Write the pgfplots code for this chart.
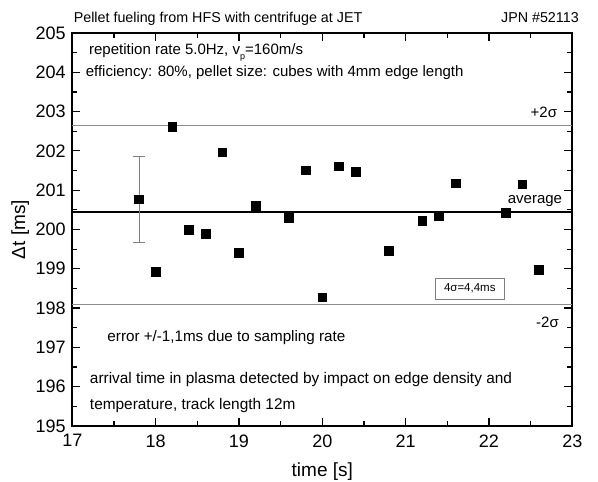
\documentclass[border=0pt]{standalone}
\usepackage{fontspec}
\setmainfont{Liberation Sans}
\usepackage{pgfplots}
\pgfplotsset{compat=1.18}
\begin{document}
\begin{tikzpicture}[x=1pt,y=1pt]
\path[use as bounding box] (-72.3,-56) rectangle (525.7,426);
\begin{axis}[
  at={(0,0)}, anchor=south west,
  scale only axis, width=500pt, height=393pt,
  xmin=17, xmax=23, ymin=195, ymax=205,
  xtick={17,18,...,23}, ytick={195,196,...,205},
  minor x tick num=1, minor y tick num=1,
  xtick pos=both, ytick pos=both,
  xticklabel pos=left, yticklabel pos=left,
  tick align=inside,
  major tick length=8pt, minor tick length=5pt,
  every tick/.style={black, line width=1.2pt},
  axis line style={line width=1.6pt},
  /pgf/number format/assume math mode=true,
  ticklabel style={font=\fontsize{18}{20}\selectfont},
  xticklabel style={yshift=-5pt},
  yticklabel style={xshift=-3pt},
  xlabel={time [s]},
  ylabel={Δt [ms]},
  xlabel style={font=\fontsize{19}{21}\selectfont, at={(axis description cs:0.5,-0.115)}, anchor=center},
  ylabel style={font=\fontsize{19}{21}\selectfont, at={(axis description cs:-0.104,0.5)}, anchor=center},
  clip=false,
]
% +/- 2 sigma and average lines
\addplot[color=black!45, line width=0.9pt, mark=none] coordinates {(17,202.64) (23,202.64)};
\addplot[color=black!45, line width=0.9pt, mark=none] coordinates {(17,198.1) (23,198.1)};
\addplot[color=black, line width=2.2pt, mark=none] coordinates {(17,200.44) (23,200.44)};
% error bar
\addplot[only marks, mark=none,
  error bars/.cd, y dir=both, y explicit,
  error bar style={black!50, line width=0.9pt},
  error mark options={rotate=90, black!50, mark size=6pt, line width=0.9pt}]
  coordinates {(17.8,200.77) +- (0,1.1)};
% data
\addplot[only marks, mark=square*, mark size=4.3pt, black] coordinates {
(17.8,200.77) (18.0,198.93) (18.2,202.61) (18.4,200.00) (18.6,199.90)
(18.8,201.97) (19.0,199.41) (19.2,200.61) (19.6,200.30) (19.8,201.51)
(20.0,198.28) (20.2,201.61) (20.4,201.47) (20.8,199.46) (21.2,200.22)
(21.4,200.35) (21.6,201.18) (22.2,200.42) (22.4,201.15) (22.6,198.97)
};
% annotations
\node[anchor=west, font=\fontsize{15}{17}\selectfont] at (axis cs:17.16,204.5) {repetition rate 5.0Hz, v\raisebox{-0.55ex}{\fontsize{9}{10}\selectfont p}=160m/s};
\node[anchor=west, font=\fontsize{15}{17}\selectfont] at (axis cs:17.12,203.98) {efficiency: 80\%, pellet size: cubes with 4mm edge length};
\node[anchor=east, font=\fontsize{15}{17}\selectfont] at (axis cs:22.86,202.97) {+2σ};
\node[anchor=east, font=\fontsize{15}{17}\selectfont] at (axis cs:22.92,200.73) {average};
\node[anchor=east, font=\fontsize{15}{17}\selectfont] at (axis cs:22.88,197.65) {-2σ};
\node[draw=black!50, fill=white, line width=0.8pt, font=\fontsize{11.5}{13}\selectfont, minimum width=69pt, minimum height=21pt, inner sep=2pt] at (axis cs:21.77,198.5) {4σ=4,4ms};
\node[anchor=west, font=\fontsize{15.2}{17}\selectfont] at (axis cs:17.38,197.25) {error +/-1,1ms due to sampling rate};
\node[anchor=west, font=\fontsize{15.4}{17}\selectfont] at (axis cs:17.17,196.17) {arrival time in plasma detected by impact on edge density and};
\node[anchor=west, font=\fontsize{15.4}{17}\selectfont] at (axis cs:17.17,195.53) {temperature, track length 12m};
% title
\node[anchor=base west, font=\fontsize{14.3}{16}\selectfont] at (rel axis cs:0,1) [yshift=10pt, xshift=-2pt] {Pellet fueling from HFS with centrifuge at JET};
\node[anchor=base east, font=\fontsize{14.3}{16}\selectfont] at (rel axis cs:1,1) [yshift=10pt, xshift=10pt] {JPN \#52113};
\end{axis}
\end{tikzpicture}
\end{document}
